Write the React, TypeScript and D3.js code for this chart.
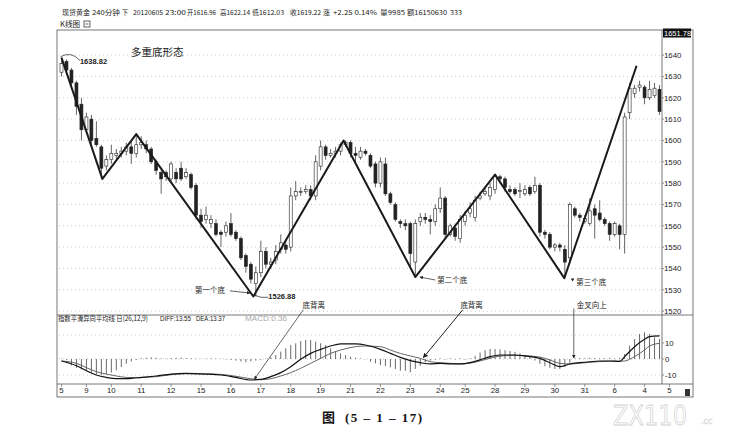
import React from "react";
import * as d3 from "d3";

// ---------- data ----------
const opens = [1632,1637,1633,1627,1617,1605,1610,1601,1597,1588,1591,1593,1594,1595,1597,1594,1598,1598,1596,1590,1585,1585,1582,1585,1587,1583,1584,1579,1565,1563,1561,1561,1557,1557,1561,1557,1554,1546,1542,1533,1538,1548,1542,1544,1549,1551,1550,1574,1576,1576,1577,1574,1588,1597,1593,1594,1595,1598,1599,1594,1592,1595,1593,1589,1580,1589,1575,1570,1562,1561,1561,1543,1562,1564,1563,1562,1568,1573,1556,1559,1554,1562,1566,1564,1573,1575,1574,1577,1583,1582,1577,1577,1576,1575,1578,1576,1579,1557,1556,1550,1551,1549,1545,1568,1565,1562,1561,1568,1566,1563,1561,1556,1560,1556,1613,1622,1625,1625,1620,1621,1624];
const highs = [1638.82,1638,1634,1628,1620,1613,1612,1609,1598,1593,1598,1596,1597,1599,1600,1603,1602,1600,1597,1591,1586,1586,1590,1587,1590,1587,1585,1580,1568,1569,1565,1563,1558,1562,1566,1558,1555,1547,1543,1541,1553,1550,1545,1551,1556,1553,1578,1581,1578,1579,1579,1593,1600,1598,1596,1597,1599,1600,1600,1597,1597,1596,1594,1590,1592,1592,1576,1571,1563,1563,1562,1563,1566,1566,1565,1570,1578,1574,1561,1561,1565,1567,1571,1574,1576,1578,1580,1584,1584,1583,1579,1578,1580,1579,1579,1583,1580,1558,1557,1552,1552,1551,1571,1569,1566,1565,1573,1570,1572,1564,1562,1562,1561,1613,1627,1626,1628,1626,1628,1627,1626];
const lows = [1630,1632,1625,1612,1600,1603,1598,1597,1582,1586,1589,1591,1592,1593,1589,1592,1596,1594,1589,1584,1575,1581,1580,1580,1581,1582,1577,1563,1559,1561,1559,1555,1550,1555,1555,1553,1544,1538,1533,1526.88,1536,1540,1540,1542,1547,1547,1548,1572,1574,1575,1572,1572,1586,1591,1592,1592,1593,1597,1592,1589,1591,1593,1587,1578,1578,1574,1570,1562,1559,1558,1541,1536,1560,1561,1556,1560,1566,1554,1555,1553,1552,1560,1564,1562,1572,1574,1572,1575,1580,1576,1575,1574,1573,1574,1574,1575,1555,1554,1549,1548,1548,1535.5,1543,1564,1562,1561,1560,1554,1562,1560,1553,1555,1549,1547,1610,1620,1623,1617,1619,1620,1612];
const closes = [1636,1633,1627,1616,1605,1611,1600,1598,1587,1591,1594,1594,1595,1597,1594,1598,1599,1596,1590,1586,1582,1583,1589,1582,1582,1585,1578,1565,1562,1565,1563,1556,1556,1560,1556,1554,1545,1541,1535,1538,1548,1542,1543,1548,1552,1549,1574,1576,1576,1577,1574,1590,1597,1593,1594,1595,1598,1599,1594,1593,1595,1594,1588,1580,1590,1575,1571,1563,1561,1560,1547,1561,1564,1563,1562,1568,1573,1556,1560,1555,1563,1565,1568,1572,1574,1576,1578,1583,1582,1578,1576,1575,1576.5,1577,1575,1579,1557,1556,1550,1551,1550,1543,1570,1565,1564,1563.5,1567,1565,1563,1561,1556,1561,1556,1611,1624.5,1624.5,1626,1620,1624,1624.5,1613.5];

const macdHist = [0.3,-0.5,-4,-5.5,-6.5,-7.5,-8.5,-9.5,-10,-9.5,-8.5,-7,-5,-3,-1.5,-0.6,0.5,0.8,1,0.8,0.5,0.3,0.6,0.8,0.9,0.7,0.5,0.3,0.2,0.3,0.4,0.3,0.2,-0.3,-0.6,-1,-1.5,-2,-1.5,-1,-0.5,0.3,1,2.5,4.6,6.7,8.7,9.8,11.2,11.9,11.9,10.8,9.8,8.7,6.7,5,3.5,2.5,1.5,0.8,0.4,-0.2,-1.7,-2.7,-3.8,-4.5,-5.2,-6.2,-7.3,-7.3,-8.3,-6.2,-4.2,-2.1,-1,-0.5,0.4,-0.4,0.5,-0.3,0.4,-0.4,0.5,2,4,5.5,6.2,6.2,6,5.5,5,4.5,3.5,2.5,1.5,-1,-3,-4.5,-5.5,-6.2,-6.2,-5,-2.5,0.4,0.6,0.5,0.8,0.6,0.4,0.5,0.7,0.3,0.6,3.1,8.3,12.5,15.6,16.7,15.6,13.5,12.5];

const diffIdx = [0,3,5,7,9,11,13,15,19,22,25,29,32,35,38,40,42,44,46,48,50,52,54,56,59,61,64,66,68,70,72,74,76,78,80,82,84,86,88,91,93,96,98,100,102,104,106,108,110,112,113,115,117,118,120];
const diffVals = [-1.25,-4.2,-7.3,-10,-11.5,-12.3,-12.3,-11.7,-10.6,-9.4,-9,-9.4,-10,-11.5,-13.1,-12.7,-11,-8.5,-4.8,-0.2,3.5,6,8.1,9.4,9.4,8.75,6,3.5,1,-1,-2.3,-3.1,-2.7,-3.1,-3.1,-2.3,-0.5,1.5,2.5,2.5,1.9,0.4,-2.3,-4.8,-3.1,-2.3,-1.7,-1.25,-1.25,-1.5,1.5,7.7,12.3,14,14.4];
const deaVals = [-1.25,-2.7,-5.4,-7.9,-9.4,-10.6,-11.5,-11.7,-11,-9.8,-9.2,-9.3,-9.6,-10.8,-12.3,-12.9,-12.3,-10.6,-8.5,-5.8,-2.7,0.4,3.5,5.6,7.7,8.1,7.7,5.6,3.5,1.9,0.4,-1.7,-2.3,-2.7,-3.1,-2.6,-1.2,0.5,1.8,2.3,2.1,1.2,-0.6,-2.7,-3.1,-2.6,-2.1,-1.6,-1.4,-1.4,-1.25,1.5,5.6,8.1,9.8];

const zigIdx = [0, 8.2, 15, 38.5, 56.6, 71, 87, 100.9, 115.4];
const zigPrice = [1638.82, 1582, 1603, 1526.88, 1600, 1536, 1584, 1535.5, 1635];

const priceTicks = [1520,1530,1540,1550,1560,1570,1580,1590,1600,1610,1620,1630,1640];
const priceTop = 1651.78;
const macdTicks = [10, 0, -10];
const macdGrid = [15, 0, -10];
const dateLabels = ["5","9","10","11","12","15","16","17","18","19","21","22","23","24","25","28","29","30","31","6","4","5"];
const dateIdx = [0,5,10,16,22,28,34,40,46,52,58,64,70,76,81,87,93,99,105,111,117,122];

const headerParts = ["现货黄金", "240分钟", "下", "20120605", "23:00", "开1616.96", "高1622.14", "低1612.03", "收1619.22", "涨", "+2.25 0.14%", "量9985", "额16150630", "333"];
const headerX = [62, 92, 122, 133, 165, 187, 220, 252, 290, 323, 333, 380, 407, 450];
const headerW = [28, 28, 6, 30, 21, 29, 30, 32, 31, 7, 44, 25, 40, 12];

// ---------- layout ----------
const L = 57, R = 693, AX = 662;
const T = 30, MB = 315, MT = 322, XB = 384, FB = 397;
const CJK = "'Noto Sans CJK SC', 'Liberation Sans', sans-serif";
const NARROW = "'Liberation Sans Narrow', 'Noto Sans CJK SC', sans-serif";
const SANS = "'Liberation Sans', sans-serif";
const INK = "#222";

export default function App() {
  const N = closes.length;
  const x = d3.scaleLinear().domain([0, N - 1]).range([61.5, 659.5]);
  const y = d3.scaleLinear().domain([1518.2, priceTop]).range([MB, T]);
  const ym = d3.scaleLinear().domain([-15.6, 23.1]).range([XB, MT]);
  const bw = 3;

  const zig = d3.line<number>().x((d, i) => x(zigIdx[i])).y((d) => y(d))(zigPrice) || "";
  const diffLine = d3.line<number>().x((d, i) => x(diffIdx[i])).y((d) => ym(d)).curve(d3.curveMonotoneX)(diffVals) || "";
  const deaLine = d3.line<number>().x((d, i) => x(diffIdx[i])).y((d) => ym(d)).curve(d3.curveMonotoneX)(deaVals) || "";

  const txt = { fontFamily: CJK, fill: INK } as const;
  const num = { fontFamily: SANS, fill: INK } as const;

  return (
    <svg width={742} height={438} style={{ position: "fixed", left: 0, top: 0, background: "#fff" }}>
      <defs>
        <marker id="ah" viewBox="0 0 10 10" refX="9" refY="5" markerWidth="5" markerHeight="5" orient="auto-start-reverse">
          <path d="M0,0 L10,5 L0,10 z" fill={INK} />
        </marker>
      </defs>
      <rect x={0} y={0} width={742} height={438} fill="#fff" />

      {/* header */}
      {headerParts.map((s, i) => (
        <text key={i} x={headerX[i]} y={14.5} fontSize={6.5} textLength={headerW[i]} lengthAdjust="spacingAndGlyphs" style={{ fontFamily: NARROW, fill: INK }}>{s}</text>
      ))}
      <text x={60} y={27} fontSize={7.6} style={txt}>K线图</text>
      <rect x={84} y={21} width={6} height={6} fill="none" stroke={INK} strokeWidth={0.7} />
      <line x1={85.5} x2={88.5} y1={24} y2={24} stroke={INK} strokeWidth={0.7} />

      {/* frames */}
      <rect x={L} y={T} width={R - L} height={FB - T} fill="none" stroke="#555" strokeWidth={0.8} />
      <line x1={L} x2={R} y1={MB} y2={MB} stroke="#555" strokeWidth={0.8} />
      <line x1={L} x2={R} y1={XB} y2={XB} stroke="#555" strokeWidth={0.8} />
      <line x1={AX} x2={AX} y1={T} y2={XB} stroke="#555" strokeWidth={0.8} />

      {/* price grid + labels */}
      {priceTicks.map((p) => (
        <g key={p}>
          <line x1={L + 2} x2={AX} y1={y(p)} y2={y(p)} stroke="#aaa" strokeWidth={0.6} strokeDasharray="1,3" />
          <line x1={AX} x2={AX + 2} y1={y(p)} y2={y(p)} stroke="#555" strokeWidth={0.6} />
          <text x={AX + 2} y={y(p) + 2.7} fontSize={7.8} style={num}>{p}</text>
        </g>
      ))}
      <rect x={AX + 1} y={y(priceTop) - 1.5} width={28} height={9} fill="#111" />
      <text x={AX + 2} y={y(priceTop) + 5.5} fontSize={7.5} style={{ fontFamily: SANS, fill: "#fff" }}>{priceTop.toFixed(2)}</text>

      {/* candles */}
      {closes.map((c, i) => {
        const o = opens[i];
        const up = c >= o;
        const top = y(Math.max(o, c));
        const bot = y(Math.min(o, c));
        const cx = x(i);
        return (
          <g key={i}>
            <line x1={cx} x2={cx} y1={y(highs[i])} y2={y(lows[i])} stroke={INK} strokeWidth={0.7} />
            <rect x={cx - bw / 2} y={top} width={bw} height={Math.max(bot - top, 0.8)}
              fill={up ? "#fff" : INK} stroke={INK} strokeWidth={0.6} />
          </g>
        );
      })}

      {/* zigzag */}
      <path d={zig} fill="none" stroke="#1a1a1a" strokeWidth={2} strokeLinejoin="round" />

      {/* annotations main */}
      <text x={x(19.2)} y={y(1639.5)} fontSize={10.5} textAnchor="middle" style={txt}>多重底形态</text>
      <path d={`M${x(0) - 1},${y(1638.82) - 1} Q${x(2)},${y(1642)} ${x(3.7)},${y(1637.5)}`} fill="none" stroke={INK} strokeWidth={0.7} />
      <text x={x(3.7)} y={y(1636)} fontSize={7.5} fontWeight="bold" style={num}>1638.82</text>
      <path d={`M${x(38.7)},${y(1527.5)} Q${x(40)},${y(1526)} ${x(41.5)},${y(1526.5)}`} fill="none" stroke={INK} strokeWidth={0.7} />
      <text x={x(41.5)} y={y(1525.5)} fontSize={7.5} fontWeight="bold" style={num}>1526.88</text>
      <text x={x(32.8)} y={y(1528.3)} fontSize={7.5} textAnchor="end" style={txt}>第一个底</text>
      <line x1={x(33.8)} y1={y(1529.5)} x2={x(37.8)} y2={y(1528.5)} stroke={INK} strokeWidth={0.7} markerEnd="url(#ah)" />
      <text x={x(75.4)} y={y(1533.3)} fontSize={7.5} style={txt}>第二个底</text>
      <line x1={x(75)} y1={y(1534.6)} x2={x(71.9)} y2={y(1536)} stroke={INK} strokeWidth={0.7} markerEnd="url(#ah)" />
      <path d={`M${x(102.2)},${y(1535.3)} l3.6,0 l-1.8,3 z`} fill={INK} />
      <text x={x(103.3)} y={y(1532.4)} fontSize={7.5} style={txt}>第三个底</text>

      <text x={x(50.6)} y={y(1521.7)} fontSize={7.5} textAnchor="middle" style={txt}>底背离</text>
      <line x1={x(48.5)} y1={y(1520.6)} x2={x(38.7)} y2={ym(-12.6)} stroke={INK} strokeWidth={0.7} markerEnd="url(#ah)" />
      <text x={x(82.3)} y={y(1521.7)} fontSize={7.5} textAnchor="middle" style={txt}>底背离</text>
      <line x1={x(80.5)} y1={y(1520.6)} x2={x(72.6)} y2={ym(0.8)} stroke={INK} strokeWidth={1} markerEnd="url(#ah)" />
      <text x={x(103.4)} y={y(1521.5)} fontSize={7.5} style={txt}>金叉向上</text>
      <line x1={x(102.8)} y1={y(1521.3)} x2={x(102.8)} y2={ym(0.6)} stroke={INK} strokeWidth={0.7} markerEnd="url(#ah)" />

      {/* MACD title */}
      <text x={58} y={321} fontSize={7.3} textLength={90} lengthAdjust="spacingAndGlyphs" style={txt}>指数平滑异同平均线 日(26,12,9)</text>
      <text x={160} y={321} fontSize={7.3} textLength={31} lengthAdjust="spacingAndGlyphs" style={num}>DIFF:13.55</text>
      <text x={196} y={321} fontSize={7.3} textLength={29} lengthAdjust="spacingAndGlyphs" style={num}>DEA:13.37</text>
      <text x={245} y={321} fontSize={7.3} textLength={42} lengthAdjust="spacingAndGlyphs" style={{ fontFamily: SANS, fill: "#aaa" }}>MACD:0.36</text>

      {/* MACD grid + labels */}
      {macdGrid.map((v) => (
        <line key={v} x1={L + 2} x2={AX} y1={ym(v)} y2={ym(v)} stroke="#aaa" strokeWidth={0.6} strokeDasharray="1,3" />
      ))}
      {macdTicks.map((v) => (
        <g key={v}>
          <line x1={AX} x2={AX + 2} y1={ym(v)} y2={ym(v)} stroke="#555" strokeWidth={0.6} />
          <text x={AX + 3} y={ym(v) + 2.7} fontSize={7.8} style={num}>{v}</text>
        </g>
      ))}

      {/* MACD histogram */}
      {macdHist.map((v, i) => (
        <line key={i} x1={x(i)} x2={x(i)} y1={ym(0)} y2={ym(v)} stroke="#444" strokeWidth={0.8} />
      ))}
      <path d={deaLine} fill="none" stroke="#555" strokeWidth={0.9} />
      <path d={diffLine} fill="none" stroke="#111" strokeWidth={1.2} />

      {/* date axis */}
      {dateLabels.map((d, i) => (
        <g key={i}>
          <line x1={x(dateIdx[i])} x2={x(dateIdx[i])} y1={XB} y2={XB + 3} stroke="#555" strokeWidth={0.6} />
          <text x={x(dateIdx[i])} y={393} fontSize={7.8} textAnchor="middle" style={num}>{d}</text>
        </g>
      ))}
      <rect x={685} y={389} width={5} height={7} fill="#333" />

      {/* caption */}
      <text x={322} y={422} fontSize={13} fontWeight="bold" style={{ fontFamily: "'Noto Sans CJK SC', serif", fill: "#111" }}>图</text>
      <text x={345} y={422} fontSize={13} fontWeight="bold" textLength={77} lengthAdjust="spacing" style={{ fontFamily: "'Liberation Serif', serif", fill: "#111" }}>(5 – 1 – 17)</text>

      {/* watermark */}
      <text x={613} y={425} fontSize={27} textLength={74} lengthAdjust="spacingAndGlyphs" style={{ fontFamily: "'DejaVu Sans', sans-serif", fill: "none", stroke: "#d2d2d2", strokeWidth: 0.8 }}>ZX110</text>
      <text x={701} y={424} fontSize={8} style={{ fontFamily: "'DejaVu Sans', sans-serif", fill: "none", stroke: "#d2d2d2", strokeWidth: 0.5 }}>.cc</text>
    </svg>
  );
}
